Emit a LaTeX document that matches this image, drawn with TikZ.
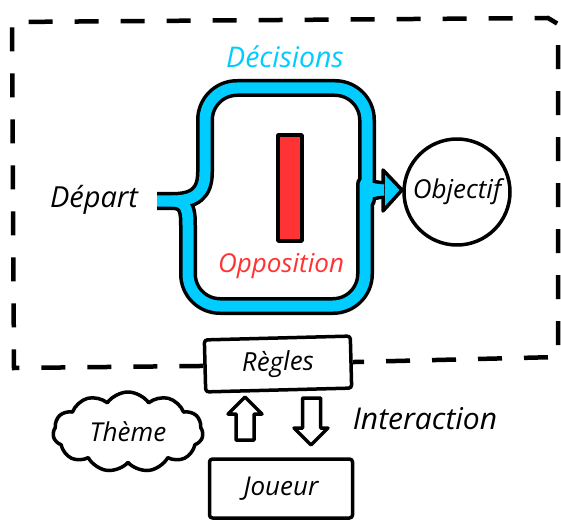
\documentclass[tikz,border=0pt]{standalone}
\usepackage{fontspec}
\setmainfont{Open Sans}
\usetikzlibrary{shapes.symbols,shapes.geometric}
\definecolor{cyanband}{HTML}{00CCFF}
\definecolor{redbar}{HTML}{FF3333}
\begin{document}
\begin{tikzpicture}[x=1pt,y=-1pt,
  txt/.style={font=\fontsize{26}{30}\selectfont\itshape, inner sep=0pt},
  outl/.style={line width=3.5pt, line join=round},
  frame/.style={line width=4.5pt, dash pattern=on 24pt off 22pt},
  bandblack/.style={line width=18pt, line cap=square, line join=round, black},
  bandblue/.style={line width=11pt, line cap=square, line join=round, cyanband},
]
\useasboundingbox (0,0) rectangle (561,521);
\fill[white] (0,0) rectangle (561,521);

% blue band (outline first)
\draw[bandblack] (157,201) -- (172,201) .. controls (195,201) and (205,193) .. (205,172)
  [rounded corners=32pt] -- (205,88) -- (367,88) -- (367,168) [sharp corners]
  .. controls (367,183) and (372,190) .. (384,190);
\draw[bandblack] (172,201) .. controls (188,201) and (188,212) .. (188,228)
  [rounded corners=32pt] -- (188,306) -- (365,306) -- (365,216) [sharp corners]
  .. controls (365,198) and (370,190) .. (384,190);
\draw[outl, fill=cyanband] (383,170) -- (402,190) -- (383,211) -- cycle;
\draw[bandblue] (157,201) -- (172,201) .. controls (195,201) and (205,193) .. (205,172)
  [rounded corners=32pt] -- (205,88) -- (367,88) -- (367,168) [sharp corners]
  .. controls (367,183) and (372,190) .. (384,190);
\draw[bandblue] (172,201) .. controls (188,201) and (188,212) .. (188,228)
  [rounded corners=32pt] -- (188,306) -- (365,306) -- (365,216) [sharp corners]
  .. controls (365,198) and (370,190) .. (384,190);

\node[draw, outl, fill=redbar, minimum width=24pt, minimum height=106pt, inner sep=0pt] (bar) at (290,188) {};

\node[txt, font=\fontsize{29}{32}\selectfont\itshape] (dep) at (94,200) {Départ};
\node[txt, font=\fontsize{28.5}{32}\selectfont\itshape, text=cyanband] (dec) at (285,57) {Décisions};
\node[txt, text=redbar] (opp) at (281,266) {Opposition};
\node[circle, draw, outl, minimum size=106pt, txt] (obj) at (457,192) {Objectif};

\node[draw, outl, rounded corners=3pt, minimum width=146pt, minimum height=52pt, rotate=1.5, txt] (regles) at (278,364) {Règles};
\node[draw, outl, rounded corners=3pt, minimum width=143pt, minimum height=59pt, txt] (joueur) at (281,488.5) {Joueur};
\node[cloud, cloud puffs=11, cloud puff arc=110, aspect=1.9, draw, outl, minimum width=150pt, minimum height=80pt, txt] (theme) at (128,432) {Thème};

% hollow arrows between Joueur and Règles
\coordinate (uptip) at (245,397);
\coordinate (downtip) at (311,445);
\draw[outl] (uptip) -- ++(17,17) -- ++(-8,0) -- ++(0,26) -- ++(-18,0) -- ++(0,-26) -- ++(-8,0) -- cycle;
\draw[outl] (downtip) -- ++(17,-17) -- ++(-7.5,0) -- ++(0,-30) -- ++(-18,0) -- ++(0,30) -- ++(-8.5,0) -- cycle;

\node[txt, font=\fontsize{30}{34}\selectfont\itshape] (inter) at (425,419) {Interaction};

\draw[frame] (regles.west) -- (14,368) -- (12,22) -- (548,18) -- (558,24) -- (558,357) -- (regles.east);
\end{tikzpicture}
\end{document}
